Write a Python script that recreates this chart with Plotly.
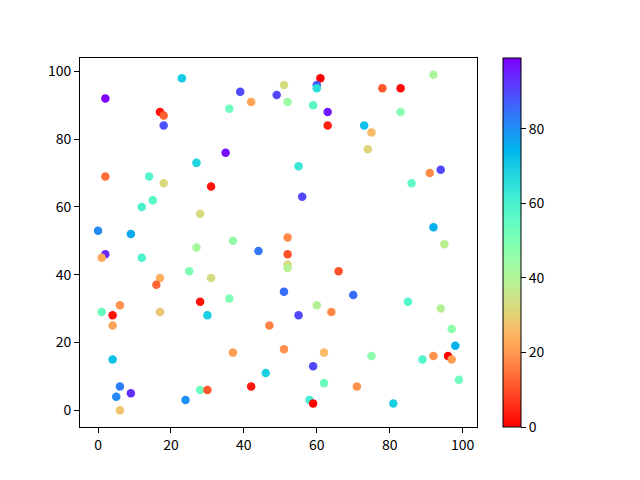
import math
import plotly.graph_objects as go

# scatter data
x_vals = [2, 23, 17, 18, 18, 39, 42, 36, 49, 51,
          35, 27, 2, 14, 18, 31, 15, 12, 28, 0,
          9, 37, 52, 61, 60, 60, 59, 63, 63, 78,
          83, 92, 83, 73, 75, 74, 55, 56, 91, 94,
          86, 92, 95, 52, 27, 44, 2, 1, 12, 25,
          31, 17, 16, 36, 28, 30, 1, 6, 4, 4,
          17, 47, 37, 4, 46, 6, 9, 5, 6, 24,
          28, 30, 42, 51, 51, 52, 52, 52, 66, 70,
          85, 94, 60, 64, 55, 97, 98, 62, 75, 89,
          92, 96, 97, 59, 62, 71, 99, 58, 59, 81]
y_vals = [92, 98, 88, 87, 84, 94, 91, 89, 93, 96,
          76, 73, 69, 69, 67, 66, 62, 60, 58, 53,
          52, 50, 91, 98, 96, 95, 90, 88, 84, 95,
          95, 99, 88, 84, 82, 77, 72, 63, 70, 71,
          67, 54, 49, 51, 48, 47, 46, 45, 45, 41,
          39, 39, 37, 33, 32, 28, 29, 31, 28, 25,
          29, 25, 17, 15, 11, 7, 5, 4, 0, 3,
          6, 6, 7, 35, 18, 46, 43, 42, 41, 34,
          32, 30, 31, 29, 28, 24, 19, 17, 16, 15,
          16, 16, 15, 13, 8, 7, 9, 3, 2, 2]
c_vals = [99, 70, 2, 12, 89, 90, 22, 53, 90, 33,
          97, 68, 14, 58, 32, 2, 57, 60, 33, 81,
          76, 45, 44, 0, 88, 66, 57, 96, 4, 11,
          1, 41, 48, 72, 26, 31, 63, 90, 18, 90,
          55, 75, 38, 18, 42, 84, 94, 23, 59, 50,
          33, 24, 13, 50, 2, 69, 54, 19, 2, 22,
          28, 17, 21, 72, 69, 83, 93, 81, 28, 80,
          53, 11, 3, 85, 19, 10, 33, 39, 10, 85,
          58, 39, 39, 18, 90, 47, 75, 26, 47, 58,
          19, 0, 21, 90, 53, 19, 53, 61, 0, 69]


# matplotlib "rainbow_r"
def rainbow(t):
    r = min(1.0, abs(2 * t - 0.5))
    g = math.sin(math.pi * t)
    b = math.cos(math.pi * t / 2)
    return "rgb(%d,%d,%d)" % (round(r * 255), round(g * 255), round(b * 255))


steps = 40
rainbow_r = [[i / steps, rainbow(1 - i / steps)] for i in range(steps + 1)]

fig = go.Figure(go.Scatter(
    x=x_vals, y=y_vals, mode="markers",
    marker=dict(
        size=8.5, color=c_vals, colorscale=rainbow_r,
        line=dict(width=0),
        colorbar=dict(
            thickness=18, len=1, lenmode="fraction", y=0.5, yanchor="middle",
            x=1.0655, xanchor="left", xpad=0, ypad=0,
            outlinecolor="black", outlinewidth=1,
            ticks="outside", ticklen=5, tickcolor="black",
            tickvals=[0, 20, 40, 60, 80],
            tickfont=dict(size=14, color="black"),
        ),
    ),
))

axis_style = dict(
    showgrid=False, zeroline=False, showline=True, linecolor="black",
    linewidth=1, mirror=True, ticks="outside", ticklen=5, tickcolor="black",
    tickvals=[0, 20, 40, 60, 80, 100], tickfont=dict(size=14, color="black"),
)

# page body has an 8px margin, so the figure is a bit smaller and shifted
fig.update_layout(
    width=632, height=472,
    margin=dict(l=72, r=163, t=50, b=53),
    paper_bgcolor="white", plot_bgcolor="white",
    font=dict(family="Noto Sans CJK SC, DejaVu Sans", size=14, color="black"),
    xaxis=dict(range=[-4.95, 103.95], **axis_style),
    yaxis=dict(range=[-4.95, 103.95], **axis_style),
    showlegend=False,
)

fig.write_html("out.html")
